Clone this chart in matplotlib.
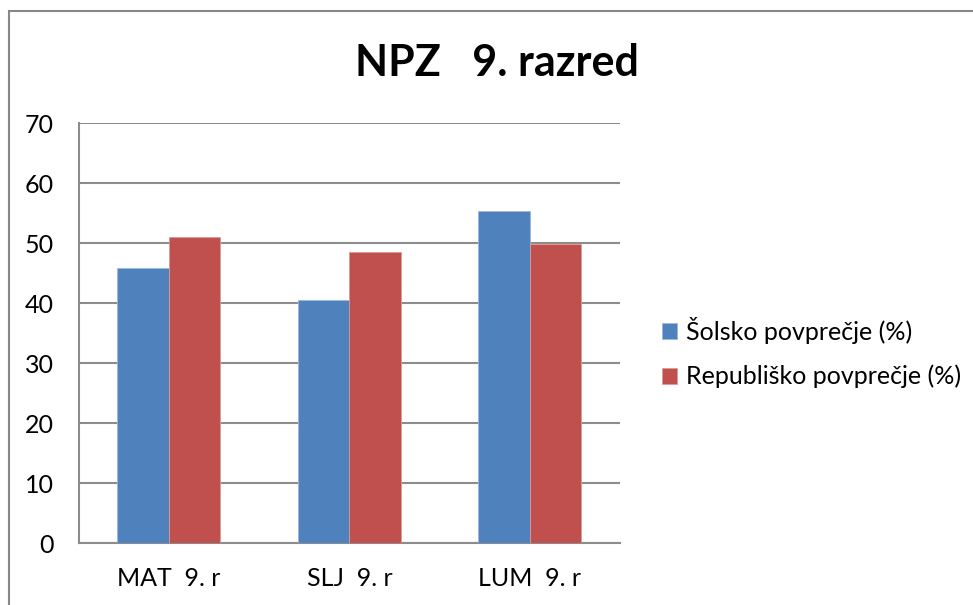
import numpy as np
import matplotlib.pyplot as plt
from matplotlib.patches import Rectangle

plt.rcParams['font.family'] = ['Lato', 'DejaVu Sans']

# Data
categories = ['MAT  9. r', 'SLJ  9. r', 'LUM  9. r']
school_avg = [45.8, 40.5, 55.4]
national_avg = [51.0, 48.5, 49.8]
series_names = ['Šolsko povprečje (%)', 'Republiško povprečje (%)']
yticks = [0, 10, 20, 30, 40, 50, 60, 70]

blue = '#4F81BD'
red = '#C0504D'
grid_gray = '#8C8C8C'

fig = plt.figure(figsize=(9.73, 6.05), dpi=100)
ax = fig.add_axes([0.0809, 0.102, 0.5563, 0.6942])

# outer chart frame (cut off on right and bottom like the screenshot)
fig.patches.append(Rectangle((9 / 973, -0.1), 1.2, 1 - 11 / 605 + 0.1,
                             transform=fig.transFigure, fill=False,
                             edgecolor='#878787', linewidth=1.5))

x = np.arange(len(categories))
w = 0.2857
ax.bar(x - w / 2, school_avg, w, color=blue, edgecolor='#9DB6DA', linewidth=0.6,
       label=series_names[0], zorder=3)
ax.bar(x + w / 2, national_avg, w, color=red, edgecolor='#DA9A98', linewidth=0.6,
       label=series_names[1], zorder=3)

ax.set_xlim(-0.5, 2.5)
ax.set_ylim(0, 70)
ax.set_yticks(yticks)
ax.set_xticks(x)
ax.set_xticklabels(categories)
ax.tick_params(axis='both', length=0, labelsize=18, colors='black')
ax.tick_params(axis='y', pad=18)
ax.tick_params(axis='x', pad=17)

ax.yaxis.grid(True, color=grid_gray, linewidth=1.5, zorder=0)
ax.set_axisbelow(True)
for s in ['top', 'right']:
    ax.spines[s].set_visible(False)
ax.spines['left'].set_color(grid_gray)
ax.spines['left'].set_linewidth(1.5)
ax.spines['bottom'].set_color(grid_gray)
ax.spines['bottom'].set_linewidth(1.5)

fig.text(497 / 973, 1 - 63 / 605, 'NPZ   9. razred', ha='center', va='center',
         fontsize=31, fontweight='bold')

ax.legend(loc='center left', bbox_to_anchor=(662 / 973, 1 - 352.5 / 605),
          bbox_transform=fig.transFigure, frameon=False, fontsize=18,
          handlelength=0.6, handleheight=0.6, handletextpad=0.35,
          labelspacing=0.85, borderpad=0, borderaxespad=0)

fig.savefig('out.png', dpi=100)
